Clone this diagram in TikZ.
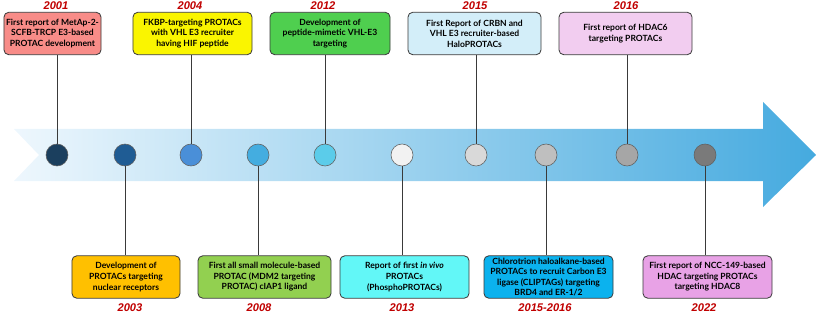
\documentclass[tikz,border=0pt]{standalone}
\usepackage{fontspec}
\setmainfont{Lato}
\newfontfamily\yearfont{Liberation Sans}
\usetikzlibrary{positioning,calc}
\definecolor{tlink}{HTML}{3A3A3A}
\definecolor{tyear}{HTML}{C00000}
\definecolor{arrowL}{HTML}{EEF7FD}
\definecolor{arrowM}{HTML}{A6D8F1}
\definecolor{arrowR}{HTML}{45AADF}
\definecolor{fsalmon}{HTML}{F88C88}
\definecolor{fyellow}{HTML}{FAF500}
\definecolor{fgreen}{HTML}{4FCF4F}
\definecolor{fice}{HTML}{D3EEF9}
\definecolor{fpink}{HTML}{F2CDF0}
\definecolor{forange}{HTML}{FFC000}
\definecolor{flime}{HTML}{92D050}
\definecolor{fcyan}{HTML}{62F7F7}
\definecolor{fsky}{HTML}{0BB2EE}
\definecolor{fviolet}{HTML}{E8A2E6}
\tikzset{
  event/.style ={rounded corners=4pt,draw=tlink,line width=0.7pt,align=center,inner sep=1pt,
                 font=\fontsize{7.3}{9}\selectfont\bfseries,minimum height=1.27cm},
  year/.style  ={font=\yearfont\fontsize{9.5}{11}\selectfont\bfseries\itshape,text=tyear,inner sep=0pt},
  dot/.style   ={circle,draw=tlink!80,line width=0.5pt,minimum size=0.66cm,inner sep=0pt},
  link/.style  ={draw=tlink,line width=0.8pt},
}
\begin{document}
\begin{tikzpicture}[x=0.03cm,y=-0.03cm]
  \useasboundingbox (0,0) rectangle (817,313);
  % timeline arrow
  \shade[left color=arrowL,middle color=arrowM,right color=arrowR]
    (14,129) -- (763,129) -- (763,102) -- (816,155) -- (763,207) -- (763,181)
    -- (14,181) -- (39,155) -- cycle;

  % milestones on the arrow
  \foreach \x/\c [count=\i] in {57/1B3F5E,125/1F5C94,191/4A8FD8,258/44ADE0,325/5BCCEA,
                                402/F2F2F2,476/D9D9D9,546/BFBFBF,627/A6A6A6,705/7A7A7A}{
    \definecolor{dot\i}{HTML}{\c}
    \node[dot,fill=dot\i] (c\i) at (\x,155) {};
  }

  % upper events
  \node[event,fill=fsalmon,minimum width=2.91cm] (e2001) at (52.5,33.5)
    {First report of MetAp-2-\\SCFB-TRCP E3-based\\PROTAC development};
  \node[event,fill=fyellow,minimum width=3.57cm] (e2004) at (192.5,33.5)
    {FKBP-targeting PROTACs\\with VHL E3 recruiter\\having HIF peptide};
  \node[event,fill=fgreen,minimum width=3.6cm] (e2012) at (330,33.5)
    {Development of\\peptide-mimetic VHL-E3\\targeting};
  \node[event,fill=fice,minimum width=3.99cm] (e2015) at (474.5,33.5)
    {First Report of CRBN and\\VHL E3 recruiter-based\\HaloPROTACs};
  \node[event,fill=fpink,minimum width=3.99cm] (e2016) at (625.5,33.5)
    {First report of HDAC6\\targeting PROTACs};

  % lower events
  \node[event,fill=forange,minimum width=3.24cm] (e2003) at (126,277)
    {Development of\\PROTACs targeting\\nuclear receptors};
  \node[event,fill=flime,minimum width=3.99cm] (e2008) at (264.5,277)
    {First all small molecule-based\\PROTAC (MDM2 targeting\\PROTAC) cIAP1 ligand};
  \node[event,fill=fcyan,minimum width=3.87cm] (e2013) at (404.5,277)
    {Report of first \textit{in vivo}\\PROTACs\\(PhosphoPROTACs)};
  \node[event,fill=fsky,minimum width=3.87cm,font=\fontsize{7.3}{8.8}\selectfont\bfseries] (e2015b) at (548.5,277)
    {Chlorotrion haloalkane-based\\PROTACs to recruit Carbon E3\\ligase (CLIPTAGs) targeting\\BRD4 and ER-1/2};
  \node[event,fill=fviolet,minimum width=3.87cm] (e2022) at (707.5,277)
    {First report of NCC-149-based\\HDAC targeting PROTACs\\targeting HDAC8};

  % years
  \node[year] (y2001) at (56,6) {2001};
  \node[year] (y2004) at (190,6) {2004};
  \node[year] (y2012) at (323,6) {2012};
  \node[year] (y2015) at (475,6) {2015};
  \node[year] (y2016) at (626,6) {2016};
  \node[year] (y2003) at (130,308) {2003};
  \node[year] (y2008) at (259,308) {2008};
  \node[year] (y2013) at (402,308) {2013};
  \node[year] (y2015b) at (545,308) {2015-2016};
  \node[year] (y2022) at (704,308) {2022};

  % connectors
  \draw[link] (c1.north) -- (c1 |- e2001.south);
  \draw[link] (c3.north) -- (c3 |- e2004.south);
  \draw[link] (c5.north) -- (c5 |- e2012.south);
  \draw[link] (c7.north) -- (c7 |- e2015.south);
  \draw[link] (c9.north) -- (c9 |- e2016.south);
  \draw[link] (c2.south) -- (c2 |- e2003.north);
  \draw[link] (c4.south) -- (c4 |- e2008.north);
  \draw[link] (c6.south) -- (c6 |- e2013.north);
  \draw[link] (c8.south) -- (c8 |- e2015b.north);
  \draw[link] (c10.south) -- (c10 |- e2022.north);
\end{tikzpicture}
\end{document}
